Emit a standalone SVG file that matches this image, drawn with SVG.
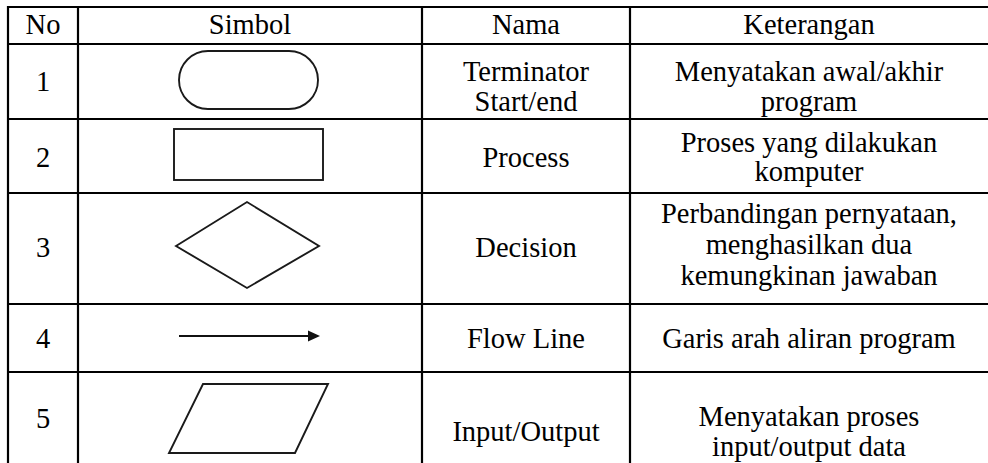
<svg xmlns="http://www.w3.org/2000/svg" width="988" height="463" viewBox="0 0 988 463">
  <style>
    .grid { stroke: #000; stroke-width: 2.2; fill: none; }
    .sym { stroke: #1a1a1a; stroke-width: 1.9; fill: none; }
    text { font-family: "Liberation Serif", "Times New Roman", serif; font-size: 28.5px; fill: #000; text-anchor: middle; }
  </style>
  <defs>
    <marker id="arrowhead" markerWidth="13" markerHeight="13" refX="10" refY="6" orient="auto" markerUnits="userSpaceOnUse">
      <path d="M0,0.5 L12,6 L0,11.5 Z" fill="#111"/>
    </marker>
  </defs>
  <rect width="988" height="463" fill="#fff"/>

  <!-- table rules -->
  <g id="grid" class="grid">
    <line x1="7" y1="7" x2="988" y2="7"/>
    <line x1="7" y1="44" x2="988" y2="44"/>
    <line x1="7" y1="119" x2="988" y2="119"/>
    <line x1="7" y1="193" x2="988" y2="193"/>
    <line x1="7" y1="304" x2="988" y2="304"/>
    <line x1="7" y1="372" x2="988" y2="372"/>
    <line x1="8" y1="6" x2="8" y2="463"/>
    <line x1="78" y1="6" x2="78" y2="463"/>
    <line x1="422" y1="6" x2="422" y2="463"/>
    <line x1="630" y1="6" x2="630" y2="463"/>
  </g>

  <!-- header -->
  <g id="header">
    <text x="43" y="34">No</text>
    <text x="250" y="34">Simbol</text>
    <text x="526" y="34">Nama</text>
    <text x="809" y="34">Keterangan</text>
  </g>

  <!-- row 1: terminator -->
  <g id="row-terminator">
    <text x="43" y="91">1</text>
    <rect class="sym" x="179" y="51" width="139" height="58" rx="29" ry="29"/>
    <text x="526" y="81">Terminator</text>
    <text x="526" y="111">Start/end</text>
    <text x="809" y="81">Menyatakan awal/akhir</text>
    <text x="809" y="111">program</text>
  </g>

  <!-- row 2: process -->
  <g id="row-process">
    <text x="43" y="167">2</text>
    <rect class="sym" x="174" y="129" width="149" height="51" stroke="#444"/>
    <text x="526" y="167">Process</text>
    <text x="809" y="152">Proses yang dilakukan</text>
    <text x="809" y="181">komputer</text>
  </g>

  <!-- row 3: decision -->
  <g id="row-decision">
    <text x="43" y="257">3</text>
    <polygon class="sym" points="176,246 247,202 319,246 247,288"/>
    <text x="526" y="257">Decision</text>
    <text x="809" y="223">Perbandingan pernyataan,</text>
    <text x="809" y="254">menghasilkan dua</text>
    <text x="809" y="285">kemungkinan jawaban</text>
  </g>

  <!-- row 4: flow line -->
  <g id="row-flowline">
    <text x="43" y="348">4</text>
    <text x="526" y="348">Flow Line</text>
    <text x="809" y="348">Garis arah aliran program</text>
  </g>

  <!-- row 5: input/output -->
  <g id="row-io">
    <text x="43" y="428">5</text>
    <polygon class="sym" points="203,384 328,384 295,453 169,453"/>
    <text x="526" y="441">Input/Output</text>
    <text x="809" y="426">Menyatakan proses</text>
    <text x="809" y="456">input/output data</text>
  </g>

  <!-- connector sample -->
  <g id="connectors">
    <line x1="179" y1="336" x2="318" y2="336" stroke="#111" stroke-width="2.2" marker-end="url(#arrowhead)"/>
  </g>
</svg>
